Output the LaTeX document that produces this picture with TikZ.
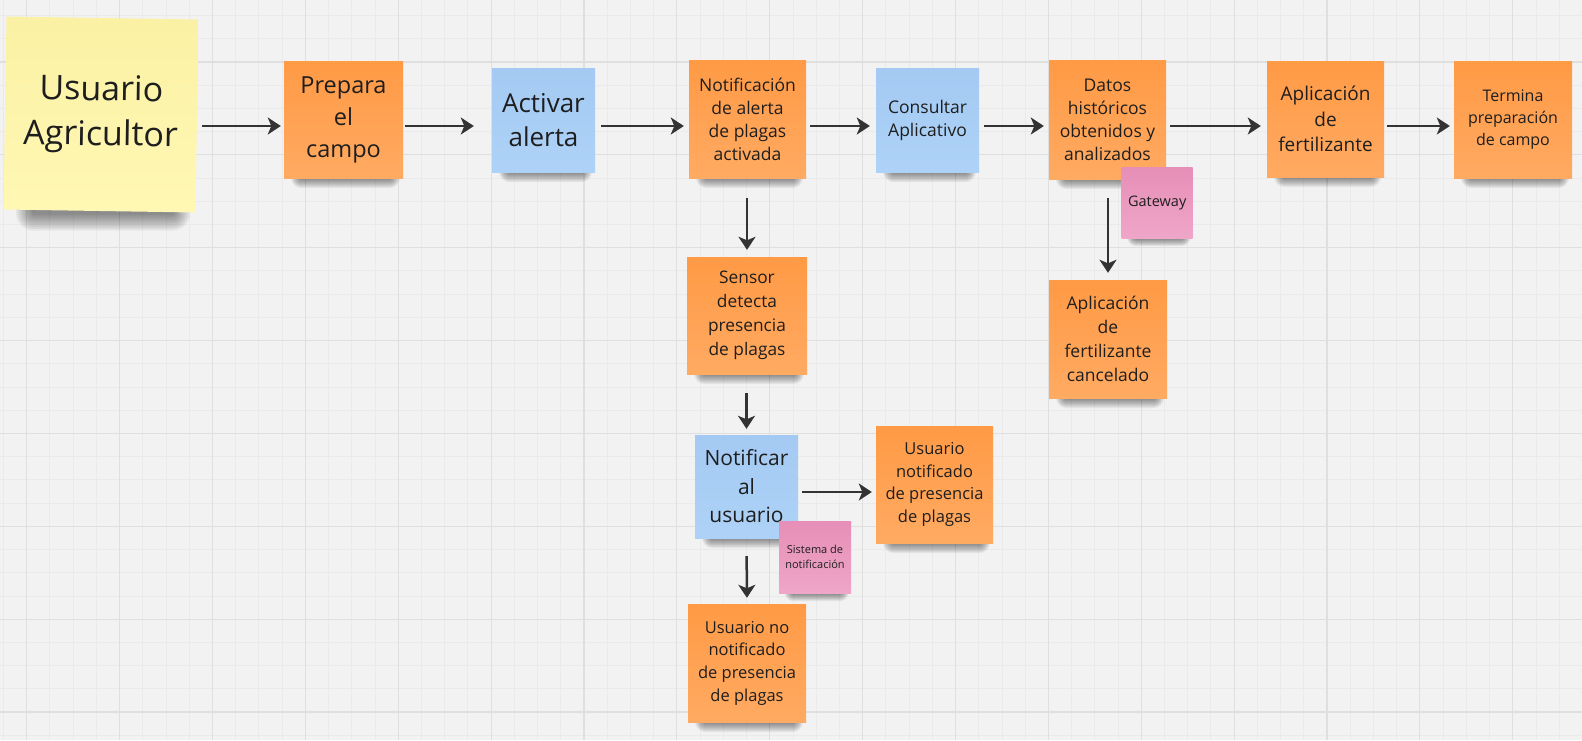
\documentclass[tikz,border=0pt]{standalone}
\usepackage{fontspec}
\setmainfont{Open Sans}
\usetikzlibrary{arrows.meta,calc}
\pgfdeclarelayer{grid}
\pgfdeclarelayer{shadow}
\pgfsetlayers{grid,shadow,main}

\definecolor{canvas}{HTML}{F2F2F2}
\definecolor{gridminor}{HTML}{EAEAEA}
\definecolor{gridmajor}{HTML}{DFDFDF}
\definecolor{ink}{HTML}{1E1E1E}
\definecolor{arrowink}{HTML}{333333}
\definecolor{orTop}{HTML}{FF9A45}
\definecolor{orBot}{HTML}{FFAA62}
\definecolor{blTop}{HTML}{A4CAF3}
\definecolor{blBot}{HTML}{AED2F7}
\definecolor{yeTop}{HTML}{FBF1A4}
\definecolor{yeBot}{HTML}{FFF8B4}
\definecolor{piTop}{HTML}{E68EB7}
\definecolor{piBot}{HTML}{EFA6C8}

\tikzset{
  note/.style={rectangle, inner sep=0pt, align=center, text=ink, draw=none},
  orangenote/.style={note, top color=orTop, bottom color=orBot},
  bluenote/.style={note, top color=blTop, bottom color=blBot},
  yellownote/.style={note, top color=yeTop, bottom color=yeBot},
  pinknote/.style={note, top color=piTop, bottom color=piBot},
  arr/.style={draw=arrowink, line width=2.5pt,
    -{Stealth[length=13pt,width=17pt,inset=3.5pt]}},
}

\begin{document}
\begin{tikzpicture}[x=1pt,y=-1pt]
\useasboundingbox (0,0) rectangle (1582,740);

% canvas with grid
\begin{pgfonlayer}{grid}
\fill[canvas] (0,0) rectangle (1582,740);
\begin{scope}
\clip (0,0) rectangle (1582,740);
\foreach \i in {-1,...,68}
  \draw[gridminor, line width=0.9pt] ({26.7+23.22*\i},0) -- ({26.7+23.22*\i},740);
\foreach \j in {-3,...,29}
  \draw[gridminor, line width=0.9pt] (0,{62+23.215*\j}) -- (1582,{62+23.215*\j});
\foreach \i in {-1,...,17}
  \draw[gridmajor, line width=1.1pt] ({26.7+92.88*\i},0) -- ({26.7+92.88*\i},740);
\foreach \j in {-1,...,7}
  \draw[gridmajor, line width=1.1pt] (0,{62+92.86*\j}) -- (1582,{62+92.86*\j});
\end{scope}
\end{pgfonlayer}

% sticky notes
\node[yellownote, rotate=-0.9, minimum width=192pt, minimum height=193pt,
  font=\fontsize{34}{45}\selectfont] (usr) at (101,114.5) {Usuario\\Agricultor};
\node[orangenote, minimum width=119pt, minimum height=117pt,
  font=\fontsize{23.5}{32}\selectfont] (prep) at (343.5,119.5) {Prepara\\el\\campo};
\node[bluenote, minimum width=103pt, minimum height=104pt,
  font=\fontsize{26}{34}\selectfont] (act) at (543.5,120) {Activar\\alerta};
\node[orangenote, minimum width=117pt, minimum height=118pt,
  font=\fontsize{17.5}{23}\selectfont] (notif) at (747.5,119) {Notificación\\de alerta\\de plagas\\activada};
\node[bluenote, minimum width=103pt, minimum height=104pt,
  font=\fontsize{17.5}{23}\selectfont] (cons) at (927.5,120) {Consultar\\Aplicativo};
\node[orangenote, minimum width=117pt, minimum height=119pt,
  font=\fontsize{17.5}{23}\selectfont] (datos) at (1107.5,119.5) {Datos\\históricos\\obtenidos y\\analizados};
\node[orangenote, minimum width=117pt, minimum height=116pt,
  font=\fontsize{19}{25.5}\selectfont] (apl) at (1325.5,119) {Aplicación\\de\\fertilizante};
\node[orangenote, minimum width=118pt, minimum height=117pt,
  font=\fontsize{16}{22}\selectfont] (term) at (1513,119.5) {Termina\\preparación\\de campo};
\node[orangenote, minimum width=120pt, minimum height=117pt,
  font=\fontsize{17.3}{24}\selectfont] (sensor) at (747,315.5) {Sensor\\detecta\\presencia\\de plagas};
\node[orangenote, minimum width=118pt, minimum height=118pt,
  font=\fontsize{17.5}{24}\selectfont] (cancel) at (1108,339) {Aplicación\\de\\fertilizante\\cancelado};
\node[bluenote, minimum width=103pt, minimum height=103pt,
  font=\fontsize{21}{28.5}\selectfont] (notifu) at (746.5,486.5) {Notificar\\al\\usuario};
\node[orangenote, minimum width=117pt, minimum height=117pt,
  font=\fontsize{16.5}{22.7}\selectfont] (usrnot) at (934.5,484.5) {Usuario\\notificado\\de presencia\\de plagas};
\node[orangenote, minimum width=118pt, minimum height=118pt,
  font=\fontsize{16.5}{22.7}\selectfont] (usrno) at (747,663) {Usuario no\\notificado\\de presencia\\de plagas};
\node[pinknote, minimum width=71pt, minimum height=71pt,
  font=\fontsize{14.5}{18}\selectfont] (gate) at (1157.2,202.5) {Gateway};
\node[pinknote, minimum width=72pt, minimum height=72pt,
  font=\fontsize{11}{15}\selectfont] (sist) at (815,557) {Sistema de\\notificación};

% soft shadows under the notes (name / spread factor)
\begin{pgfonlayer}{shadow}
\foreach \n/\s in {usr/1.8,prep/1,act/1,notif/1,cons/1,datos/1,apl/1,term/1,
    sensor/1,cancel/1,notifu/1,usrnot/1,usrno/1,gate/0.8,sist/0.8} {
  \foreach \k in {0,...,9} {
    \pgfmathsetmacro\e{\k*\s}
    \pgfmathsetmacro\rr{\e+2}
    \fill[black, opacity=0.05, rounded corners=\rr pt]
      ($(\n.south west)+({16*\s-\e},{-12-\e})$) rectangle
      ($(\n.south east)+({-12*\s+\e},{1*\s+\e})$);
  }
}
\end{pgfonlayer}

% connectors
\coordinate (rowA) at (0,126);
\coordinate (rowB) at (0,492);
\draw[arr, shorten <=5pt, shorten >=3pt] (usr.east |- rowA) -- (prep.west |- rowA);
\draw[arr, shorten <=2pt, shorten >=18pt] (prep.east |- rowA) -- (act.west |- rowA);
\draw[arr, shorten <=6pt, shorten >=5pt] (act.east |- rowA) -- (notif.west |- rowA);
\draw[arr, shorten <=4pt, shorten >=6pt] (notif.east |- rowA) -- (cons.west |- rowA);
\draw[arr, shorten <=5pt, shorten >=5pt] (cons.east |- rowA) -- (datos.west |- rowA);
\draw[arr, shorten <=4pt, shorten >=6pt] (datos.east |- rowA) -- (apl.west |- rowA);
\draw[arr, shorten <=3pt, shorten >=4pt] (apl.east |- rowA) -- (term.west |- rowA);
\draw[arr, shorten <=20pt, shorten >=7pt] (notif.south -| sensor.north) -- (sensor.north);
\draw[arr, shorten <=19pt, shorten >=7pt] (datos.south -| cancel.north) -- (cancel.north);
\draw[arr, shorten <=19pt, shorten >=6pt] (sensor.south -| notifu.north) -- (notifu.north);
\draw[arr, shorten <=4pt, shorten >=4pt] (notifu.east |- rowB) -- (usrnot.west |- rowB);
\draw[arr, shorten <=18pt, shorten >=6pt] (notifu.south) -- (usrno.north);
\end{tikzpicture}
\end{document}
